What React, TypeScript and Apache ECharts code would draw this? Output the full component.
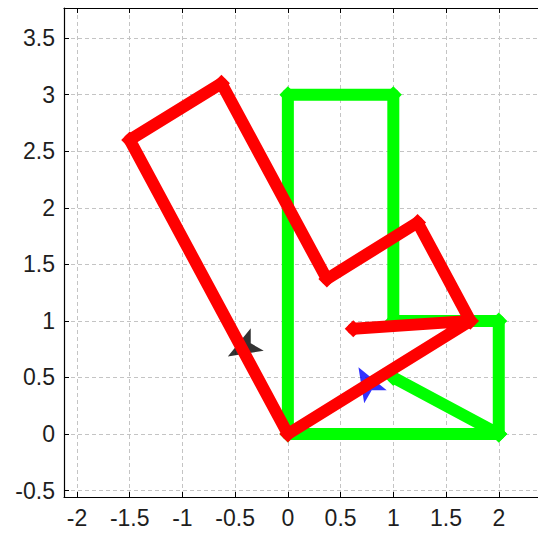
import React, { useEffect, useRef } from "react";
import * as echarts from "echarts";

const greenX = [1, 2, 0, 0, 1, 1, 2, 2];
const greenY = [0.5, 0, 0, 3, 3, 1, 1, 0];
const redX = [0.62, 1.73, 0, -1.5, -0.63, 0.37, 1.23, 1.73];
const redY = [0.93, 1.0, 0, 2.6, 3.1, 1.37, 1.87, 1.0];
const arrowX = [-0.43, 0.75];
const arrowY = [0.76, 0.46];
const arrowHeading = [210, 120];
const arrowColors = ["#000000", "#0000ff"];
const xTicks = [-2, -1.5, -1, -0.5, 0, 0.5, 1, 1.5, 2];
const yTicks = [-0.5, 0, 0.5, 1, 1.5, 2, 2.5, 3, 3.5];

const pairs = (xs: number[], ys: number[]) => xs.map((x, i) => [x, ys[i]]);

export default function App() {
  const ref = useRef<HTMLDivElement>(null);
  useEffect(() => {
    if (!ref.current) return;
    const chart = echarts.init(ref.current, undefined, { renderer: "svg" });
    const labelStyle = {
      fontFamily: "Liberation Sans",
      fontSize: 23,
      color: "#1e1e1e",
    };
    const grid = {
      left: 64,
      top: 8,
      right: -4,
      bottom: 41,
      outerBoundsMode: "none",
    };
    const common = (ticks: number[]) => ({
      type: "value",
      axisLine: { show: true, onZero: false, lineStyle: { color: "#000", width: 1.2 } },
      axisTick: { show: true, inside: true, length: 5, customValues: ticks, lineStyle: { color: "#000" } },
    });
    const arrowPath = "path://M10,5 L0,0 L2.2,5 L0,10 Z";
    chart.setOption({
      animation: false,
      backgroundColor: "#fff",
      grid,
      xAxis: [
        {
          ...common(xTicks),
          min: -2.123,
          max: 2.41,
          position: "bottom",
          axisLabel: { ...labelStyle, margin: 9, customValues: xTicks },
          splitLine: { show: true, lineStyle: { color: "#c4c4c4", type: [4, 3], width: 1 } },
        },
        {
          ...common(xTicks),
          min: -2.123,
          max: 2.41,
          position: "top",
          axisLabel: { show: false },
          splitLine: { show: false },
        },
      ],
      yAxis: [
        {
          ...common(yTicks),
          min: -0.557,
          max: 3.766,
          position: "left",
          axisLabel: { ...labelStyle, margin: 9, customValues: yTicks },
          splitLine: { show: true, lineStyle: { color: "#c4c4c4", type: [4, 3], width: 1 } },
        },
      ],
      series: [
        {
          type: "scatter",
          data: arrowX.map((x, i) => ({
            value: [x, arrowY[i]],
            symbolRotate: arrowHeading[i],
            itemStyle: { color: arrowColors[i] },
          })),
          symbol: arrowPath,
          symbolSize: [34, 26],
          z: 2,
        },
        {
          type: "line",
          data: pairs(greenX, greenY),
          symbol: "diamond",
          symbolSize: 17,
          showAllSymbol: true,
          itemStyle: { color: "#00ff00" },
          lineStyle: { color: "#00ff00", width: 12, cap: "round", join: "round" },
          z: 3,
        },
        {
          type: "line",
          data: pairs(redX, redY),
          symbol: "diamond",
          symbolSize: 17,
          showAllSymbol: true,
          itemStyle: { color: "#ff0000" },
          lineStyle: { color: "#ff0000", width: 12, cap: "round", join: "round" },
          z: 4,
        },
      ],
    });
    return () => chart.dispose();
  }, []);
  return (
    <div
      ref={ref}
      style={{ position: "fixed", left: 0, top: 0, width: 538, height: 538, background: "#fff" }}
    />
  );
}
